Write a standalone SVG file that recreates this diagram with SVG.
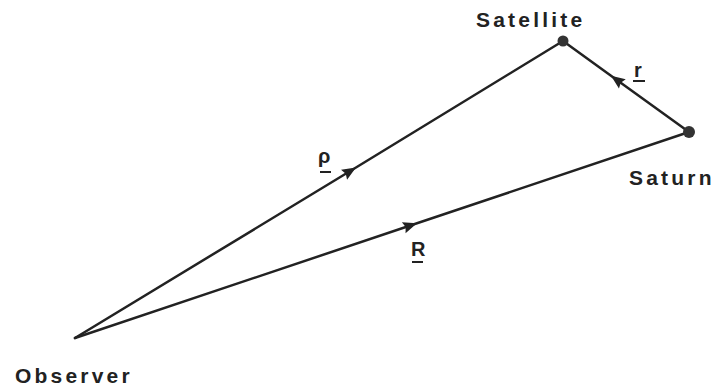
<svg xmlns="http://www.w3.org/2000/svg" width="715" height="390" viewBox="0 0 715 390">
<style>
.edge{fill:none;stroke:#222;stroke-width:2.5;stroke-linejoin:round;stroke-linecap:round;marker-mid:url(#arr)}
.dot{fill:#333}
.name{font-family:"Liberation Sans",Arial,sans-serif;font-weight:bold;font-size:21px;fill:#222;letter-spacing:3.2px}
.vec{font-family:"Liberation Sans",Arial,sans-serif;font-weight:bold;font-size:20px;fill:#222}
.ul{stroke:#222;stroke-width:2}
</style>
<defs>
<marker id="arr" markerUnits="userSpaceOnUse" markerWidth="16" markerHeight="14" refX="14" refY="7" orient="auto" overflow="visible">
<path d="M14,7 L0,1.2 L2,7 L0,12.8 z" fill="#222"/>
</marker>
</defs>
<rect width="715" height="390" fill="#fff"/>
<g id="connectors">
<path class="edge" d="M75,338 L356,167.5 L563,41"/>
<path class="edge" d="M75,338 L417,223.3 L689,132"/>
<path class="edge" d="M689,132 L611,75.7 L563,41"/>
</g>
<g id="observer">
<text class="name" x="15" y="383">Observer</text>
</g>
<g id="satellite">
<circle class="dot" cx="563" cy="41" r="5.5"/>
<text class="name" x="476" y="27">Satellite</text>
</g>
<g id="saturn">
<circle class="dot" cx="689" cy="132" r="6"/>
<text class="name" x="629" y="185">Saturn</text>
</g>
<g id="labels">
<text class="vec" x="318" y="163" font-size="21">ρ</text>
<line class="ul" x1="320" y1="172" x2="331" y2="172"/>
<text class="vec" x="411" y="256" font-size="18">R</text>
<line class="ul" x1="412" y1="262" x2="423" y2="262"/>
<text class="vec" x="634" y="77">r</text>
<line class="ul" x1="633" y1="81" x2="645" y2="81"/>
</g>
</svg>
